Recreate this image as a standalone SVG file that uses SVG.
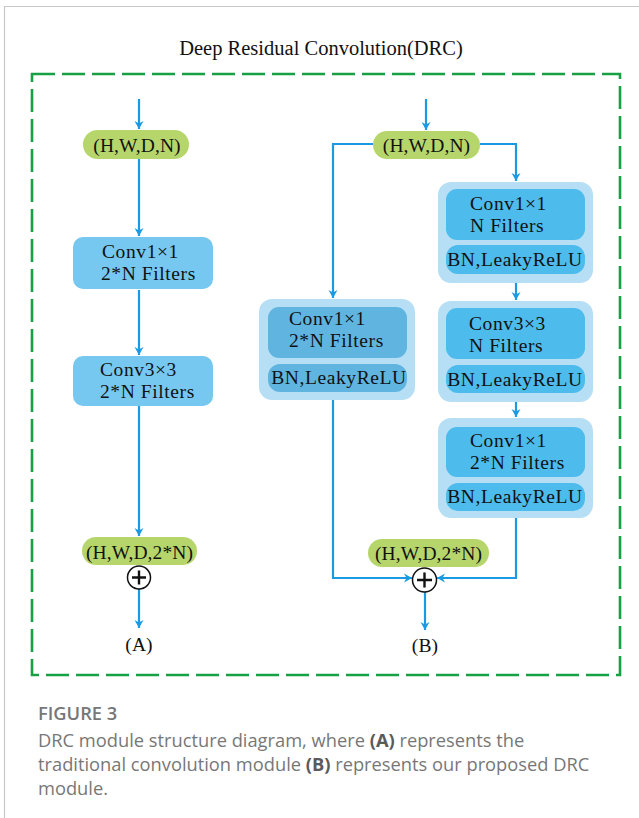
<svg xmlns="http://www.w3.org/2000/svg" width="639" height="818" viewBox="0 0 639 818">
<defs>
<marker id="ah" markerUnits="userSpaceOnUse" markerWidth="12" markerHeight="12" refX="9" refY="6" orient="auto">
<path d="M1,1.5 L9,6 L1,10.5 L3.5,6 Z" fill="#1b9ae4"/>
</marker>
</defs>
<style>
.t{font-family:"Liberation Serif","Times New Roman",serif;font-size:19.5px;fill:#111;letter-spacing:0.6px}
.m{text-anchor:middle}
.p{letter-spacing:0.1px}
.ttl{font-size:20.5px;letter-spacing:0}
.pill{fill:#b6d66c}
.boxA{fill:#76c8f0}
.cont{fill:#b6dff5}
.inner{fill:#4dbbeb}
.innerL{fill:#5fb5e0}
.c{fill:none;stroke:#1b9ae4;stroke-width:2.2;marker-end:url(#ah)}
.cap{font-family:"Open Sans","Noto Sans",sans-serif;font-size:18.3px;fill:#777}
</style>
<rect width="639" height="818" fill="#fff"/>
<path d="M4.5,818 V6.5 H639" fill="none" stroke="#c8c8c8" stroke-width="1.2"/>
<text class="t m ttl" x="321" y="55">Deep Residual Convolution(DRC)</text>
<rect x="32" y="74" width="588" height="601" fill="none" stroke="#17a144" stroke-width="2.6" stroke-dasharray="23 7"/>

<g id="connectors">
<path class="c" d="M139,99 V129"/>
<path class="c" d="M139,159 V236"/>
<path class="c" d="M139,290 V355"/>
<path class="c" d="M139,406 V536"/>
<path class="c" d="M139,589 V628"/>
<path class="c" d="M426,99 V130"/>
<path class="c" d="M373,144 H333 V298"/>
<path class="c" d="M480,144 H516 V181"/>
<path class="c" d="M516,283 V300"/>
<path class="c" d="M516,402 V417"/>
<path class="c" d="M333,400 V578 H412"/>
<path class="c" d="M516,518 V578 H437"/>
<path class="c" d="M425,592 V630"/>
</g>

<g id="A-input"><rect class="pill" x="83" y="130" width="106" height="29" rx="14.5"/><text class="t m p" x="137" y="152">(H,W,D,N)</text></g>
<g id="A-conv1"><rect class="boxA" x="73" y="237" width="140" height="52" rx="10"/><text class="t" x="102" y="258">Conv1×1</text><text class="t" x="101" y="280">2*N Filters</text></g>
<g id="A-conv3"><rect class="boxA" x="73" y="356" width="140" height="50" rx="10"/><text class="t" x="100" y="376">Conv3×3</text><text class="t" x="100" y="398">2*N Filters</text></g>
<g id="A-output"><rect class="pill" x="82" y="537" width="115" height="28" rx="14"/><text class="t m p" x="139.5" y="559">(H,W,D,2*N)</text></g>
<g id="A-add"><circle cx="139" cy="577.5" r="11.5" fill="#fff" stroke="#111" stroke-width="1.5"/><path d="M132,577.5 H146 M139,570.5 V584.5" stroke="#111" stroke-width="2.4"/></g>
<text class="t m p" x="139" y="651">(A)</text>

<g id="B-input"><rect class="pill" x="373" y="131" width="107" height="28" rx="14"/><text class="t m p" x="426.5" y="152">(H,W,D,N)</text></g>
<g id="B-shortcut"><rect class="cont" x="259" y="299" width="156" height="101" rx="13"/><rect class="innerL" x="268" y="307" width="139" height="51" rx="11"/><rect class="innerL" x="268" y="364" width="139" height="28" rx="12"/><text class="t" x="289" y="325">Conv1×1</text><text class="t" x="289" y="347">2*N Filters</text><text class="t m" x="339" y="384">BN,LeakyReLU</text></g>
<g id="B-block1"><rect class="cont" x="438" y="182" width="155" height="101" rx="13"/><rect class="inner" x="446" y="189" width="139" height="51" rx="11"/><rect class="inner" x="446" y="245" width="139" height="29" rx="12"/><text class="t" x="470" y="210">Conv1×1</text><text class="t" x="470" y="232">N Filters</text><text class="t m" x="515" y="266">BN,LeakyReLU</text></g>
<g id="B-block2"><rect class="cont" x="438" y="301" width="155" height="101" rx="13"/><rect class="inner" x="446" y="308" width="139" height="51" rx="11"/><rect class="inner" x="446" y="365" width="139" height="28" rx="12"/><text class="t" x="469" y="330">Conv3×3</text><text class="t" x="469" y="352">N Filters</text><text class="t m" x="515" y="386">BN,LeakyReLU</text></g>
<g id="B-block3"><rect class="cont" x="438" y="418" width="155" height="100" rx="13"/><rect class="inner" x="446" y="427" width="139" height="50" rx="11"/><rect class="inner" x="446" y="483" width="139" height="28" rx="12"/><text class="t" x="470" y="447">Conv1×1</text><text class="t" x="470" y="469">2*N Filters</text><text class="t m" x="515" y="503">BN,LeakyReLU</text></g>
<g id="B-output"><rect class="pill" x="368" y="539" width="121" height="28" rx="14"/><text class="t m p" x="428.5" y="560">(H,W,D,2*N)</text></g>
<g id="B-add"><circle cx="424.5" cy="580" r="12" fill="#fff" stroke="#111" stroke-width="1.5"/><path d="M417,580 H432 M424.5,572.5 V587.5" stroke="#111" stroke-width="2.4"/></g>
<text class="t m p" x="425" y="652">(B)</text>

<text class="cap" x="38" y="720" font-size="19.5" font-weight="600" fill="#666">FIGURE 3</text>
<text class="cap" x="38" y="747">DRC module structure diagram, where <tspan font-weight="700" fill="#5a5a5a">(A)</tspan> represents the</text>
<text class="cap" x="38" y="771">traditional convolution module <tspan font-weight="700" fill="#5a5a5a">(B)</tspan> represents our proposed DRC</text>
<text class="cap" x="38" y="795">module.</text>
</svg>
